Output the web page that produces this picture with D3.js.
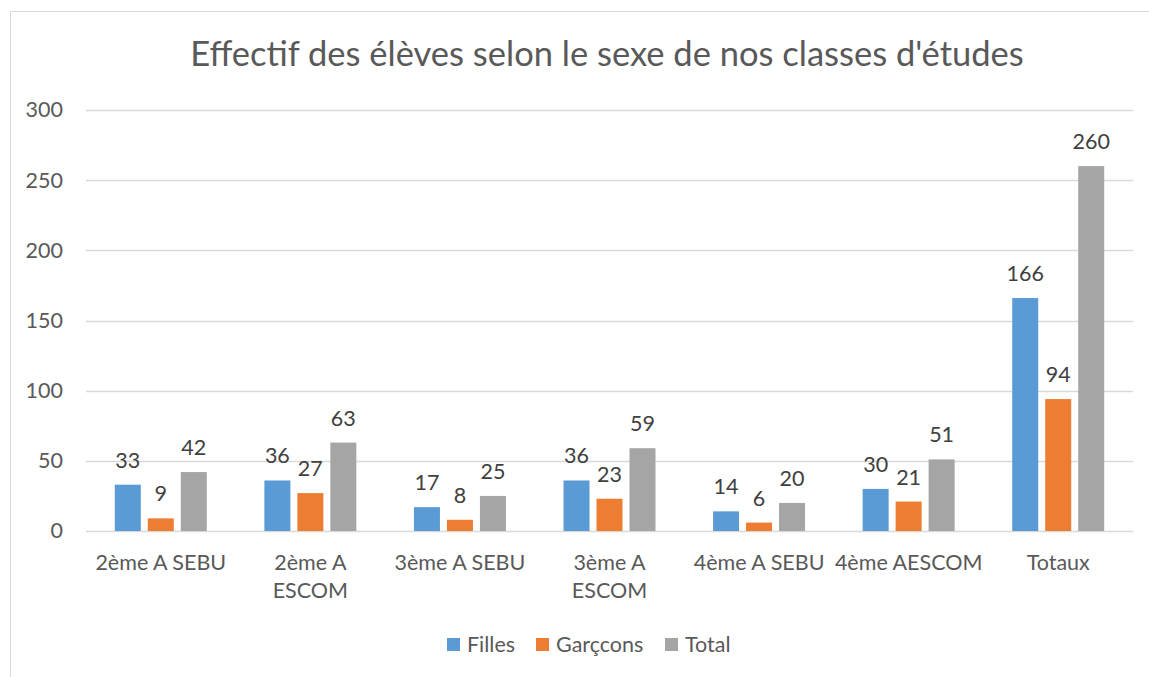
<!DOCTYPE html>
<html>
<head>
<meta charset="utf-8">
<script src="https://cdn.jsdelivr.net/npm/d3@7"></script>
<style>
  body { margin: 0; background: #fff; }
  svg { display: block; font-family: Lato, "Open Sans", sans-serif; }
</style>
</head>
<body>
<svg id="chart" width="1149" height="677"></svg>
<script>
"use strict";

var categories = ["2ème A SEBU", "2ème A ESCOM", "3ème A SEBU", "3ème A ESCOM", "4ème A SEBU", "4ème AESCOM", "Totaux"];
// how each category label wraps on the axis
var categoryLines = [["2ème A SEBU"], ["2ème A", "ESCOM"], ["3ème A SEBU"], ["3ème A", "ESCOM"], ["4ème A SEBU"], ["4ème AESCOM"], ["Totaux"]];
var seriesNames = ["Filles", "Garçcons", "Total"];
var filles = [33, 36, 17, 36, 14, 30, 166];
var garcons = [9, 27, 8, 23, 6, 21, 94];
var total = [42, 63, 25, 59, 20, 51, 260];
var yTicks = [0, 50, 100, 150, 200, 250, 300];
var colors = ["#5b9bd5", "#ed7d31", "#a5a5a5"];

var seriesValues = [filles, garcons, total];

var svg = d3.select("#chart");
var plotLeft = 86, plotRight = 1133, plotTop = 110, plotBottom = 531;
var fs = 21.5;

// chart frame (only left and top edges visible in the picture)
svg.append("rect").attr("x", 10.5).attr("y", 11.5).attr("width", 1160).attr("height", 700)
    .attr("fill", "none").attr("stroke", "#d9d9d9");

svg.append("text").attr("x", 607).attr("y", 66).attr("text-anchor", "middle")
    .attr("font-size", 34.5).attr("fill", "#595959")
    .text("Effectif des élèves selon le sexe de nos classes d'études");

var x = d3.scaleBand().domain(categories).range([plotLeft, plotRight]);
var xInner = d3.scaleBand().domain(seriesNames).range([0, x.bandwidth()]).paddingInner(0.212).paddingOuter(0.873);
var y = d3.scaleLinear().domain([0, 300]).range([plotBottom, plotTop]);

svg.append("g").selectAll("line").data(yTicks).enter().append("line")
    .attr("x1", plotLeft).attr("x2", plotRight)
    .attr("y1", function (d) { return Math.round(y(d)) + 0.5; })
    .attr("y2", function (d) { return Math.round(y(d)) + 0.5; })
    .attr("stroke", "#d9d9d9").attr("stroke-width", 1.5);

var yAxis = svg.append("g").attr("transform", "translate(" + plotLeft + ",0)")
    .call(d3.axisLeft(y).tickValues(yTicks).tickSize(0).tickPadding(23));
yAxis.select(".domain").remove();
yAxis.selectAll("text").attr("font-size", fs).attr("fill", "#595959").attr("font-family", "Lato, sans-serif");

var groups = svg.append("g").selectAll("g").data(categories).enter().append("g")
    .attr("transform", function (d) { return "translate(" + x(d) + ",0)"; });

seriesNames.forEach(function (name, si) {
    groups.append("rect")
        .attr("x", xInner(name))
        .attr("width", xInner.bandwidth())
        .attr("y", function (_, ci) { return y(seriesValues[si][ci]); })
        .attr("height", function (_, ci) { return plotBottom - y(seriesValues[si][ci]); })
        .attr("fill", colors[si]);
    groups.append("text")
        .attr("x", xInner(name) + xInner.bandwidth() / 2)
        .attr("y", function (_, ci) { return y(seriesValues[si][ci]) - 17; })
        .attr("text-anchor", "middle").attr("font-size", fs).attr("fill", "#404040")
        .text(function (_, ci) { return seriesValues[si][ci]; });
});

var xLabels = svg.append("g").selectAll("text").data(categories).enter().append("text")
    .attr("x", function (d) { return x(d) + x.bandwidth() / 2; })
    .attr("y", 570).attr("text-anchor", "middle").attr("font-size", fs).attr("fill", "#595959");
xLabels.each(function (_, ci) {
    var t = d3.select(this);
    categoryLines[ci].forEach(function (line, li) {
        t.append("tspan").attr("x", x(categories[ci]) + x.bandwidth() / 2)
            .attr("dy", li === 0 ? 0 : 28).text(line);
    });
});

var legendX = [447, 536, 665];
var legend = svg.append("g").selectAll("g").data(seriesNames).enter().append("g")
    .attr("transform", function (_, i) { return "translate(" + legendX[i] + ",638)"; });
legend.append("rect").attr("width", 13).attr("height", 13).attr("fill", function (_, i) { return colors[i]; });
legend.append("text").attr("x", 20).attr("y", 14).attr("font-size", fs).attr("fill", "#595959")
    .text(function (d) { return d; });
</script>
</body>
</html>
